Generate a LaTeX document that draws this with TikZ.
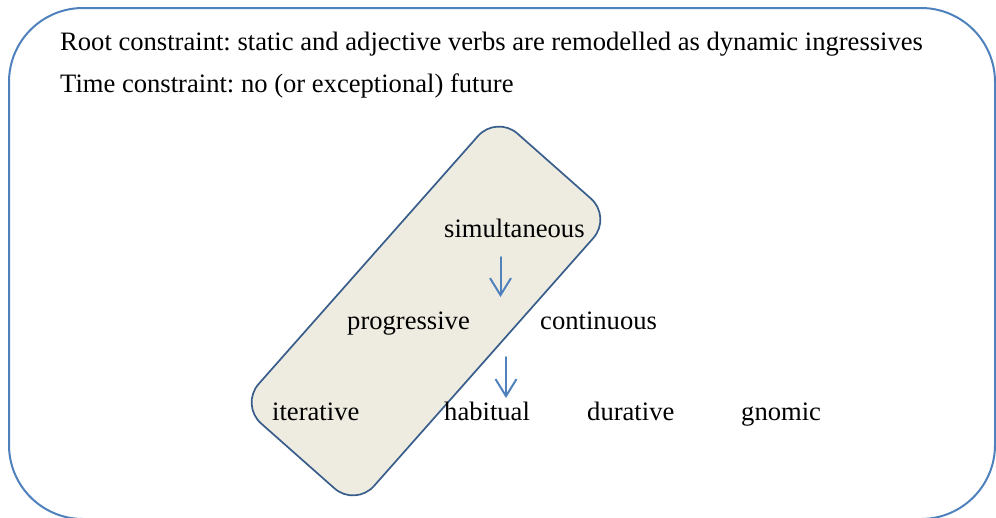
\documentclass[tikz,border=0pt]{standalone}
\usepackage{fontspec}
\setmainfont{Liberation Serif}
\usetikzlibrary{arrows.meta}
\frenchspacing
\definecolor{outerblue}{HTML}{4F81BD}
\definecolor{boxblue}{HTML}{385D8A}
\definecolor{boxfill}{HTML}{EEECE1}
\definecolor{arrowblue}{HTML}{4F81BD}
\tikzset{
  lbl/.style={anchor=base west, inner sep=0pt, font=\fontsize{26.6}{30}\selectfont},
  frame/.style={draw=outerblue, line width=2pt, rounded corners=74pt},
  tiltbox/.style={draw=boxblue, fill=boxfill, line width=1.7pt, rounded corners=28pt,
    minimum width=387pt, minimum height=154pt, inner sep=0pt, rotate=48.5},
  flow/.style={draw=arrowblue, line width=2pt, line cap=round,
    -{Straight Barb[length=17pt,width=21pt,line width=2pt,line join=miter]}}
}
\begin{document}
\begin{tikzpicture}[x=1pt,y=-1pt]
\useasboundingbox (0,0) rectangle (996,517);
\draw[frame] (9,8) rectangle (995,519);
\node[tiltbox] (box) at (426,311) {};
\node[lbl] (root) at (60,50) {Root constraint: static and adjective verbs are remodelled as dynamic ingressives};
\node[lbl] (time) at (60,92) {Time constraint: no (or exceptional) future};
\node[lbl] (simul) at (444,237) {simultaneous};
\node[lbl] (prog) at (347,329) {progressive};
\node[lbl] (cont) at (540,329) {continuous};
\node[lbl] (iter) at (272,420) {iterative};
\node[lbl] (habit) at (444,420) {habitual};
\node[lbl] (dur) at (587,420) {durative};
\node[lbl] (gnom) at (741,420) {gnomic};
\coordinate (a1s) at (500.5,257);
\coordinate (a1e) at (500.5,297);
\coordinate (a2s) at (506,357);
\coordinate (a2e) at (506,398);
\draw[flow] (a1s) -- (a1e);
\draw[flow] (a2s) -- (a2e);
\end{tikzpicture}
\end{document}
